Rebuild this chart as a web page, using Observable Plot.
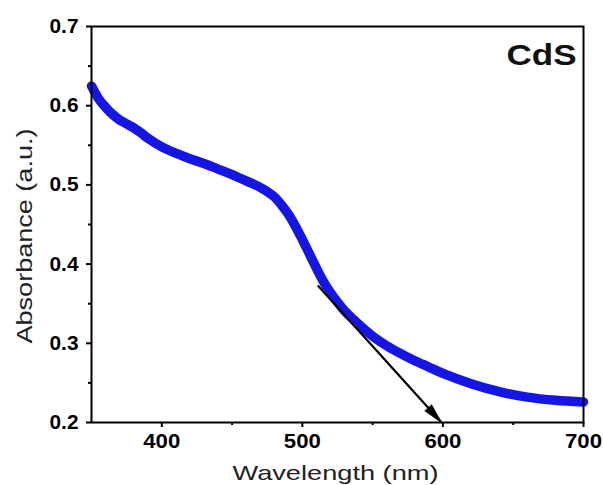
<!DOCTYPE html>
<html>
<head>
<meta charset="utf-8">
<script src="https://cdn.jsdelivr.net/npm/d3@7"></script>
<script src="https://cdn.jsdelivr.net/npm/@observablehq/plot@0.6"></script>
<style>
  html, body { margin: 0; padding: 0; background: white; }
</style>
</head>
<body>
<div id="chart"></div>
<script>
// ---- data ----
const wavelength = [350,355,360,365,370,375,380,385,390,400,410,420,430,440,450,460,470,480,485,490,495,500,505,510,515,520,525,530,540,550,560,570,580,590,600,620,640,660,680,700];
const absorbance = [0.625,0.609,0.598,0.589,0.582,0.577,0.572,0.566,0.559,0.548,0.540,0.533,0.527,0.520,0.513,0.505,0.497,0.485,0.475,0.463,0.448,0.431,0.413,0.395,0.378,0.364,0.352,0.341,0.324,0.309,0.297,0.287,0.278,0.270,0.262,0.249,0.239,0.232,0.228,0.226];

const arrowStart = [511, 0.373];
const arrowEnd = [599, 0.200];

const xTicks = [400, 500, 600, 700];
const xMinorTicks = [450, 550, 650];
const yTicks = [0.2, 0.3, 0.4, 0.5, 0.6, 0.7];
const yMinorTicks = [0.25, 0.35, 0.45, 0.55, 0.65];

const xLabel = "Wavelength (nm)";
const yLabel = "Absorbance (a.u.)";
const sampleLabel = "CdS";

const xDomain = [350, 700];
const yDomain = [0.2, 0.7];

// ---- layout ----
const W = 603, H = 485;
const M = {top: 26, right: 20, bottom: 63, left: 91};

const data = wavelength.map((w, i) => ({w, a: absorbance[i]}));
const arrow = [{x1: arrowStart[0], y1: arrowStart[1], x2: arrowEnd[0], y2: arrowEnd[1]}];

const font = "Arial, 'Liberation Sans', sans-serif";

const plot = Plot.plot({
  width: W,
  height: H,
  marginTop: M.top,
  marginRight: M.right,
  marginBottom: M.bottom,
  marginLeft: M.left,
  style: {fontFamily: font, background: "white", color: "black", overflow: "visible"},
  x: {domain: xDomain},
  y: {domain: yDomain},
  marks: [
    Plot.line(data, {x: "w", y: "a", stroke: "#1616e4", strokeWidth: 9.5, strokeLinecap: "round", strokeLinejoin: "round", curve: "catmull-rom"}),
    Plot.link(arrow, {x1: "x1", y1: "y1", x2: "x2", y2: "y2", stroke: "black", strokeWidth: 2.2, markerEnd: "arrow"}),
    Plot.frame({stroke: "black", strokeWidth: 2}),
    Plot.axisY({ticks: yTicks, tickSize: 5, tickPadding: 8, tickFormat: d3.format(".1f"), fontSize: 20, fontWeight: "bold", strokeWidth: 2, label: null}),
    Plot.axisY({ticks: yMinorTicks, tickSize: 3, tickFormat: () => "", strokeWidth: 2, label: null}),
    Plot.axisX({ticks: xTicks, tickSize: 5, tickPadding: 6, tickFormat: d3.format("d"), fontSize: 20, fontWeight: "bold", strokeWidth: 2, label: null}),
    Plot.axisX({ticks: xMinorTicks, tickSize: 3, tickFormat: () => "", strokeWidth: 2, label: null}),
    Plot.text([xLabel], {text: d => d, frameAnchor: "bottom", dx: -2, dy: 51, lineAnchor: "middle", textAnchor: "middle", fontSize: 21, fill: "#222"}),
    Plot.text([yLabel], {text: d => d, frameAnchor: "left", dx: -67, dy: 11.5, rotate: -90, lineAnchor: "middle", textAnchor: "middle", fontSize: 22, fill: "#222"}),
    Plot.text([sampleLabel], {text: d => d, frameAnchor: "top-right", dx: -7, dy: 17, lineAnchor: "top", textAnchor: "end", fontSize: 30, fontWeight: "bold", fill: "#111"})
  ]
});

const sel = d3.select(plot);

// filled, narrow arrowhead like the reference
sel.selectAll("marker")
  .attr("overflow", "visible")
  .attr("fill", "black")
  .attr("stroke", "black")
  .attr("stroke-width", 0.3)
  .selectAll("path")
  .attr("d", "M-13.5,-3.2L0.6,0L-13.5,3.2Z");

// stretch the text widths like the reference (image is horizontally stretched)
const stretch = (label, len) => sel.selectAll("text").filter(function() { return this.textContent === label; })
  .attr("textLength", len).attr("lengthAdjust", "spacingAndGlyphs");
stretch(xLabel, 206);
stretch(yLabel, 215);
stretch(sampleLabel, 70);
["400","500","600","700"].forEach(t => stretch(t, 37));
["0.2","0.3","0.4","0.5","0.6","0.7"].forEach(t => stretch(t, 29));

document.getElementById("chart").appendChild(plot);
</script>
</body>
</html>
